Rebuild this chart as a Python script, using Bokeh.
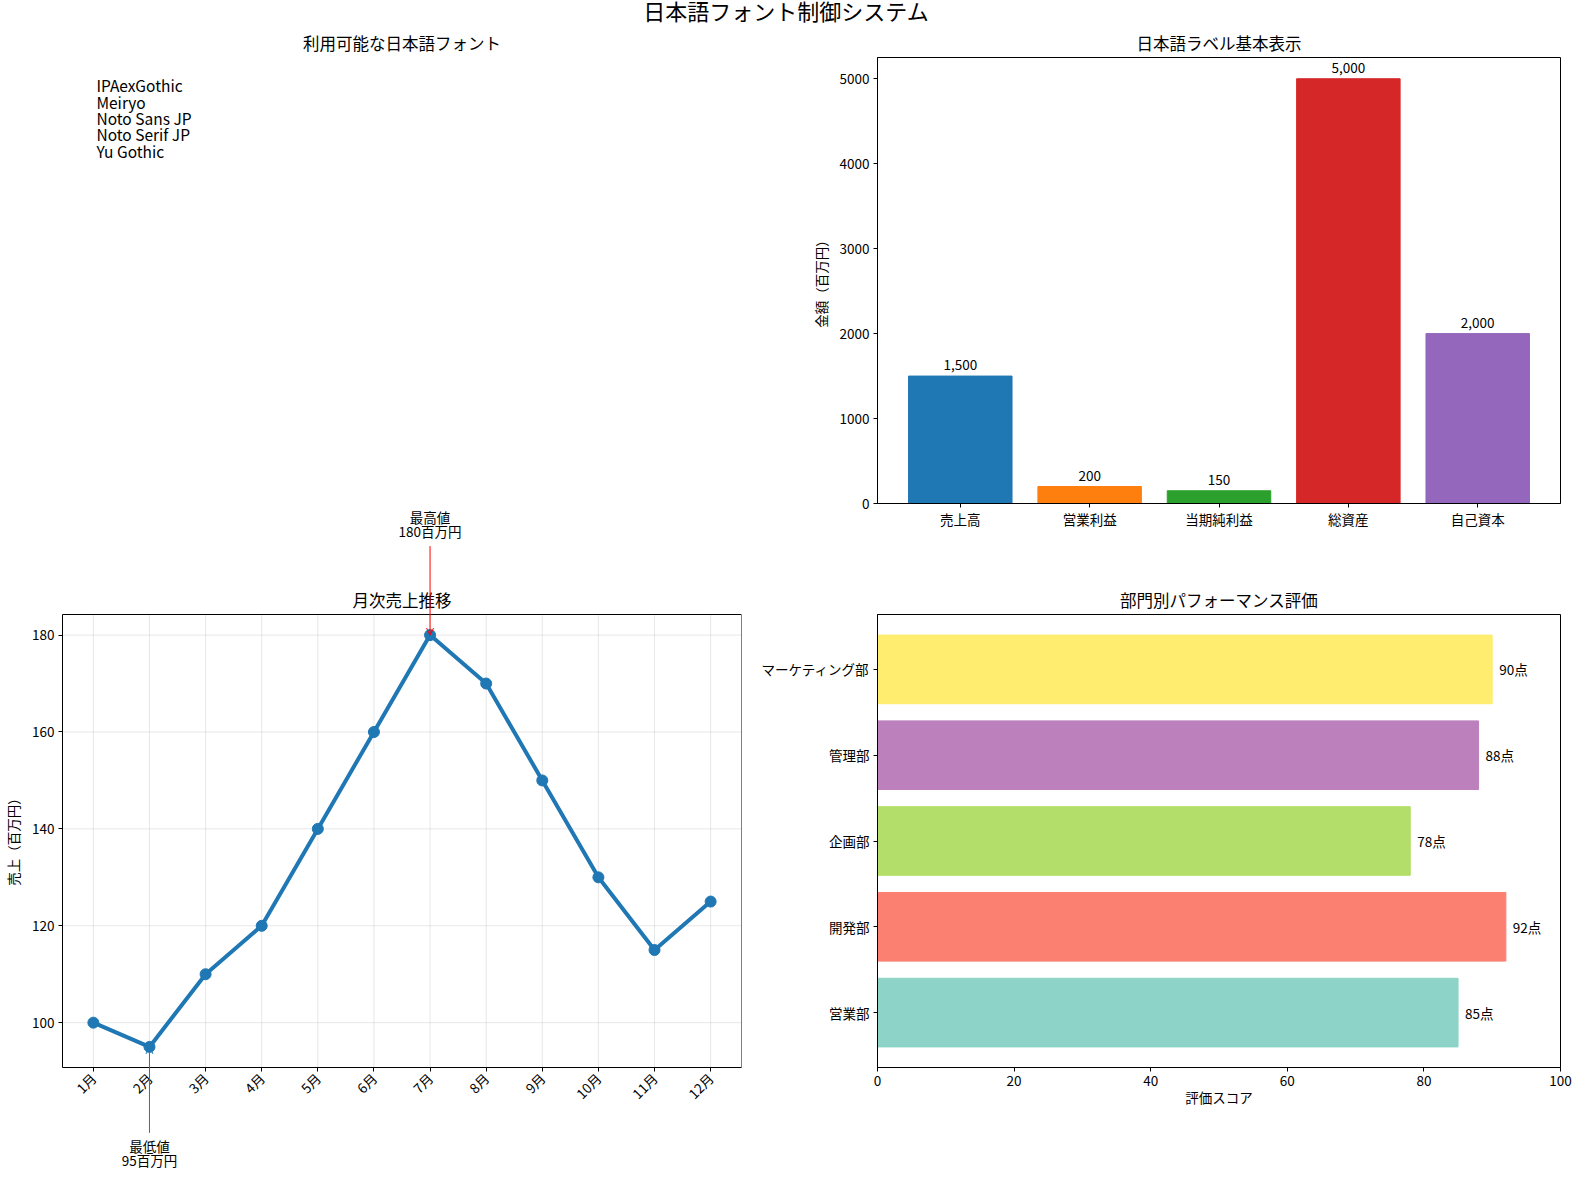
import math
from bokeh.plotting import figure
from bokeh.layouts import column, row
from bokeh.models import (Div, Range1d, FixedTicker, SingleIntervalTicker, ColumnDataSource,
                          Label, LabelSet, Arrow, OpenHead, BoxAnnotation)
from bokeh.embed import file_html
from bokeh.resources import INLINE
from bokeh.core.properties import value

FONT = "Noto Sans CJK JP"

# ---------------- data ----------------
suptitle = "日本語フォント制御システム"
titles = ["利用可能な日本語フォント", "日本語ラベル基本表示", "月次売上推移", "部門別パフォーマンス評価"]

font_names = ["IPAexGothic", "Meiryo", "Noto Sans JP", "Noto Serif JP", "Yu Gothic"]

fin_items = ["売上高", "営業利益", "当期純利益", "総資産", "自己資本"]
fin_values = [1500, 200, 150, 5000, 2000]
fin_colors = ["#1f77b4", "#ff7f0e", "#2ca02c", "#d62728", "#9467bd"]

months = ["1月", "2月", "3月", "4月", "5月", "6月", "7月", "8月", "9月", "10月", "11月", "12月"]
sales = [100, 95, 110, 120, 140, 160, 180, 170, 150, 130, 115, 125]
sales_ticks = [100, 120, 140, 160, 180]

depts = ["営業部", "開発部", "企画部", "管理部", "マーケティング部"]
scores = [85, 92, 78, 88, 90]
dept_colors = ["#8dd3c7", "#fb8072", "#b3de69", "#bc80bd", "#ffed6f"]

TICK = "13.5px"


def style(p, title=None):
    if title is not None:
        p.title.text = title
        p.title.align = "center"
        p.title.text_font = FONT
        p.title.text_font_size = "16.5px"
        p.title.text_font_style = "normal"
        p.title.text_color = "black"
        p.title.standoff = 5
    p.outline_line_color = "black"
    p.outline_line_alpha = 1
    p.outline_line_width = 1
    p.background_fill_color = "white"
    p.border_fill_color = "white"
    for ax in list(p.xaxis) + list(p.yaxis):
        ax.major_label_text_font = FONT
        ax.major_label_text_font_size = TICK
        ax.major_label_text_color = "black"
        ax.axis_line_color = "black"
        ax.major_tick_line_color = "black"
        ax.major_tick_out = 4
        ax.major_tick_in = 0
        ax.minor_tick_line_color = None
        ax.axis_label_text_font = FONT
        ax.axis_label_text_font_size = TICK
        ax.axis_label_text_font_style = "normal"
        ax.axis_label_text_color = "black"
        ax.major_label_standoff = 4
    for ax in p.yaxis:
        ax.axis_label_standoff = 6
    for ax in p.xaxis:
        ax.axis_label_standoff = -2


def make_fig(w, h, left, right, top, bottom, xr, yr, title=""):
    kw = dict(width=w, height=h, x_range=xr, y_range=yr, output_backend="svg",
              toolbar_location=None, min_border_left=left, min_border_right=right,
              min_border_top=top, min_border_bottom=bottom)
    if title is None:
        kw["title"] = None
    return figure(**kw)


LW, RW = 757, 815   # left / right column widths

# ---------------- top-left: font list ----------------
p1 = make_fig(LW, 478, 57, 16, 25, 1, Range1d(0, 1), Range1d(0, 1))
style(p1, titles[0])
p1.axis.visible = False
p1.grid.visible = False
p1.outline_line_color = None
p1.text(x=[0.05], y=[0.962], text=["\n".join(font_names)], text_font=value(FONT),
        text_font_size="15.5px", text_baseline="top", text_align="left",
        text_color="black", text_line_height=0.74)

# ---------------- top-right: financial bars ----------------
xs = list(range(len(fin_items)))
p2 = make_fig(RW, 533, 120, 12, 25, 56, Range1d(-0.64, 4.64), Range1d(0, 5250))
src2 = ColumnDataSource(dict(x=xs, top=fin_values, color=fin_colors,
                             label=[f"{v:,}" for v in fin_values]))
p2.vbar(x="x", top="top", width=0.8, color="color", source=src2)
p2.add_layout(LabelSet(x="x", y="top", text="label", source=src2, text_align="center",
                       text_baseline="bottom", y_offset=6, text_font=value(FONT),
                       text_font_size=TICK, text_color="black"))
style(p2, titles[1])
p2.grid.visible = False
p2.xaxis.ticker = FixedTicker(ticks=xs)
p2.xaxis.major_label_overrides = {i: n for i, n in enumerate(fin_items)}
p2.xaxis.major_label_standoff = 1
p2.yaxis.ticker = SingleIntervalTicker(interval=1000)
p2.yaxis.axis_label = "金額（百万円）"

# ---------------- bottom-left: monthly sales ----------------
# visible axes box limits; the frame is extended so the annotations outside the box can show
X_LO, X_HI = -0.55, 11.55
Y_LO, Y_HI = 90.75, 184.25
PX = 453 / (Y_HI - Y_LO)          # pixels per data unit of the visible box
mx = list(range(len(months)))
p3 = make_fig(LW, 668, 57, 16, 0, 0, Range1d(X_LO, X_HI),
              Range1d(Y_LO - 105 / PX, Y_HI + 110 / PX), title=None)
style(p3)
p3.outline_line_color = None
p3.grid.visible = False
# grid lines restricted to the box
p3.segment(x0=mx, y0=[Y_LO] * len(mx), x1=mx, y1=[Y_HI] * len(mx),
           line_color="#b0b0b0", line_alpha=0.3, line_width=1)
p3.segment(x0=[X_LO] * len(sales_ticks), y0=sales_ticks, x1=[X_HI] * len(sales_ticks),
           y1=sales_ticks, line_color="#b0b0b0", line_alpha=0.3, line_width=1)
p3.line(mx, sales, line_width=4, color="#1f77b4")
p3.scatter(mx, sales, size=11, color="#1f77b4")
p3.add_layout(BoxAnnotation(left=X_LO, right=X_HI, bottom=Y_LO, top=Y_HI,
                            fill_alpha=0, line_color="black", line_alpha=1, line_width=1))
p3.xaxis.ticker = FixedTicker(ticks=mx)
p3.xaxis.major_label_overrides = {i: m for i, m in enumerate(months)}
p3.xaxis.major_label_orientation = math.pi / 4
p3.xaxis.bounds = (X_LO, X_HI)
p3.xaxis.fixed_location = Y_LO
p3.yaxis.ticker = FixedTicker(ticks=sales_ticks)
p3.yaxis.bounds = (Y_LO, Y_HI)
p3.yaxis.axis_label = "売上（百万円）"
p3.add_layout(Label(x=(X_LO + X_HI) / 2, y=Y_HI, y_offset=3, text=titles[2],
                    text_align="center", text_baseline="bottom", text_font=FONT,
                    text_font_size="16.5px", text_color="black"))

imax = sales.index(max(sales))
imin = sales.index(min(sales))
p3.add_layout(Label(x=imax, y=sales[imax], y_offset=94, text=f"最高値\n{sales[imax]}百万円",
                    text_align="center", text_baseline="bottom", text_font=FONT,
                    text_font_size=TICK, text_color="black", text_line_height=0.72))
p3.add_layout(Arrow(end=OpenHead(size=7, line_color="red", line_width=1),
                    x_start=imax, y_start=sales[imax] + 89 / PX, x_end=imax, y_end=sales[imax],
                    line_color="red", line_width=1))
p3.add_layout(Label(x=imin, y=sales[imin], y_offset=-89, text=f"最低値\n{sales[imin]}百万円",
                    text_align="center", text_baseline="top", text_font=FONT,
                    text_font_size=TICK, text_color="black", text_line_height=0.72))
p3.add_layout(Arrow(end=OpenHead(size=7, line_color="#1f77b4", line_width=1),
                    x_start=imin, y_start=sales[imin] - 86 / PX, x_end=imin, y_end=sales[imin],
                    line_color="#1f77b4", line_width=1))

# ---------------- bottom-right: department scores ----------------
dy = list(range(len(depts)))
p4 = make_fig(RW, 613, 120, 12, 55, 105, Range1d(0, 100), Range1d(-0.64, 4.64))
src4 = ColumnDataSource(dict(y=dy, right=scores, color=dept_colors,
                             label=[f"{s}点" for s in scores]))
p4.hbar(y="y", left=0, right="right", height=0.8, color="color", source=src4)
p4.add_layout(LabelSet(x="right", y="y", text="label", source=src4, x_offset=7,
                       text_align="left", text_baseline="middle", text_font=value(FONT),
                       text_font_size=TICK, text_color="black"))
style(p4, titles[3])
p4.grid.visible = False
p4.yaxis.ticker = FixedTicker(ticks=dy)
p4.yaxis.major_label_overrides = {i: d for i, d in enumerate(depts)}
p4.xaxis.ticker = SingleIntervalTicker(interval=20)
p4.xaxis.axis_label = "評価スコア"

head = Div(text=f'<div style="width:{LW + RW}px;text-align:center;'
                f'font-family:\'Liberation Sans\',\'{FONT}\';'
                f'font-size:22px;line-height:26px;color:black;">{suptitle}</div>',
           width=LW + RW, height=26, margin=(0, 0, 0, 0))

layout = column(head, row(column(p1, p3), column(p2, p4)))
open("out.html", "w").write(file_html(layout, INLINE))
